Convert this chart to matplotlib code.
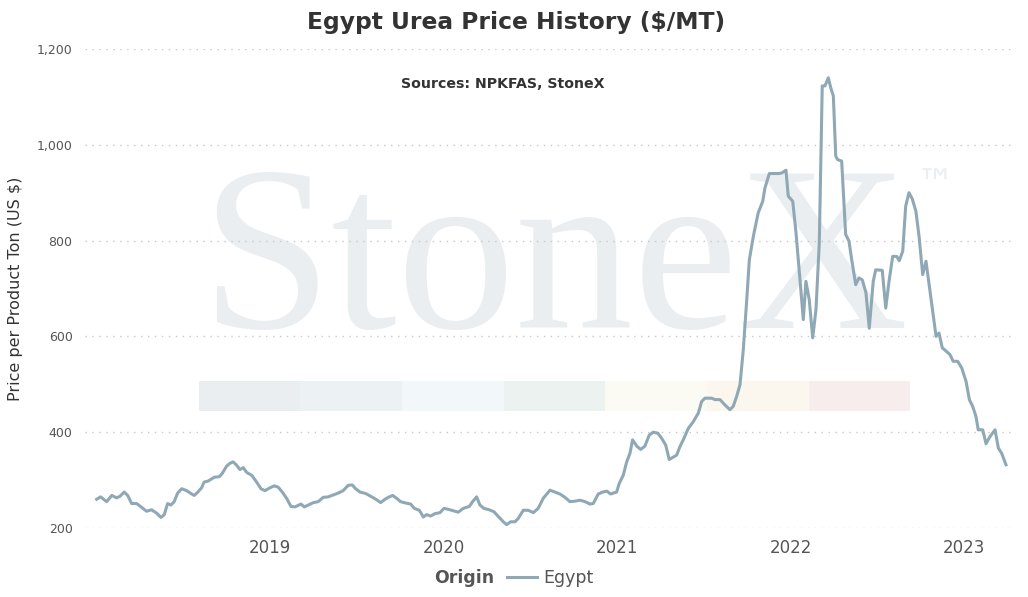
import matplotlib
matplotlib.use('Agg')
import matplotlib.pyplot as plt
from matplotlib.patches import Rectangle
from matplotlib.lines import Line2D

# decimal year of each reading, and price in $/MT
years = [
    2018.001, 2018.024, 2018.059, 2018.088, 2018.116, 2018.135, 2018.160, 2018.180,
    2018.203, 2018.232, 2018.261, 2018.289, 2018.318, 2018.347, 2018.372, 2018.391,
    2018.410, 2018.429, 2018.448, 2018.468, 2018.491, 2018.520, 2018.549, 2018.564,
    2018.587, 2018.606, 2018.621, 2018.644, 2018.679, 2018.708, 2018.725, 2018.750,
    2018.769, 2018.788, 2018.808, 2018.827, 2018.846, 2018.866, 2018.895, 2018.923,
    2018.948, 2018.971, 2019.000, 2019.025, 2019.048, 2019.071, 2019.096, 2019.121,
    2019.144, 2019.179, 2019.198, 2019.221, 2019.250, 2019.278, 2019.307, 2019.336,
    2019.365, 2019.394, 2019.422, 2019.451, 2019.474, 2019.494, 2019.519, 2019.552,
    2019.582, 2019.615, 2019.638, 2019.663, 2019.682, 2019.707, 2019.730, 2019.753,
    2019.784, 2019.811, 2019.832, 2019.861, 2019.884, 2019.903, 2019.926, 2019.951,
    2019.980, 2020.003, 2020.028, 2020.057, 2020.085, 2020.114, 2020.149, 2020.168,
    2020.191, 2020.210, 2020.233, 2020.264, 2020.291, 2020.316, 2020.345, 2020.364,
    2020.387, 2020.412, 2020.431, 2020.460, 2020.489, 2020.518, 2020.546, 2020.575,
    2020.614, 2020.643, 2020.671, 2020.700, 2020.729, 2020.758, 2020.787, 2020.816,
    2020.844, 2020.863, 2020.892, 2020.918, 2020.941, 2020.964, 2020.979, 2020.998,
    2021.013, 2021.036, 2021.056, 2021.075, 2021.090, 2021.114, 2021.137, 2021.161,
    2021.186, 2021.209, 2021.235, 2021.258, 2021.281, 2021.301, 2021.324, 2021.344,
    2021.363, 2021.382, 2021.411, 2021.440, 2021.469, 2021.488, 2021.507, 2021.546,
    2021.565, 2021.594, 2021.622, 2021.651, 2021.670, 2021.690, 2021.709, 2021.728,
    2021.748, 2021.763, 2021.786, 2021.814, 2021.840, 2021.853, 2021.878, 2021.901,
    2021.930, 2021.949, 2021.974, 2021.987, 2022.013, 2022.032, 2022.055, 2022.074,
    2022.089, 2022.108, 2022.128, 2022.147, 2022.166, 2022.183, 2022.199, 2022.218,
    2022.232, 2022.247, 2022.261, 2022.272, 2022.295, 2022.318, 2022.337, 2022.353,
    2022.376, 2022.395, 2022.414, 2022.435, 2022.454, 2022.477, 2022.491, 2022.529,
    2022.549, 2022.568, 2022.589, 2022.612, 2022.627, 2022.647, 2022.664, 2022.683,
    2022.702, 2022.723, 2022.741, 2022.762, 2022.781, 2022.800, 2022.820, 2022.839,
    2022.856, 2022.875, 2022.895, 2022.919, 2022.938, 2022.964, 2022.987, 2023.012,
    2023.031, 2023.050, 2023.069, 2023.082, 2023.108, 2023.127, 2023.150, 2023.179,
    2023.198, 2023.217, 2023.242,
]
prices = [
    260, 265, 255, 268, 263, 266, 275, 268,
    251, 251, 243, 235, 238, 231, 222, 228,
    251, 248, 255, 273, 282, 278, 271, 268,
    276, 284, 296, 298, 306, 307, 314, 329,
    335, 338, 331, 322, 326, 316, 310, 296,
    282, 278, 284, 288, 285, 275, 262, 245,
    244, 250, 244, 248, 253, 255, 264, 265,
    269, 273, 278, 289, 290, 282, 275, 272,
    266, 259, 253, 260, 264, 268, 262, 255,
    252, 250, 241, 237, 223, 228, 225, 230,
    232, 241, 239, 236, 233, 241, 245, 255,
    265, 248, 241, 238, 234, 224, 213, 207,
    213, 213, 220, 237, 237, 232, 241, 262,
    279, 275, 271, 264, 255, 256, 258, 255,
    250, 251, 271, 275, 277, 271, 273, 275,
    293, 310, 338, 356, 384, 371, 364, 371,
    394, 400, 398, 387, 373, 343, 348, 352,
    370, 384, 408, 422, 440, 464, 471, 471,
    468, 468, 457, 447, 454, 475, 499, 572,
    677, 760, 809, 858, 882, 910, 940, 940,
    940, 941, 947, 893, 882, 816, 718, 635,
    715, 677, 597, 656, 795, 1123, 1123, 1140,
    1119, 1102, 976, 969, 966, 813, 799, 760,
    708, 722, 718, 691, 617, 715, 739, 738,
    659, 715, 767, 767, 758, 778, 872, 900,
    887, 861, 809, 729, 757, 705, 649, 600,
    607, 576, 570, 562, 548, 548, 534, 506,
    468, 454, 433, 405, 405, 376, 391, 405,
    367, 356, 332,
]
tick_years = [2019, 2020, 2021, 2022, 2023]
y_ticks = [200, 400, 600, 800, 1000, 1200]
band_colors = ['#eaeef1', '#ecf1f3', '#f2f7f9', '#ecf2ef', '#fbfbf3', '#fbf7ee', '#f8eded']

line_color = '#8fa8b6'
text_color = '#555555'

fig = plt.figure(figsize=(10.28, 5.97), dpi=100)
ax = fig.add_axes([85 / 1028, 1 - 528 / 597, 930 / 1028, 479 / 597])
ax.set_zorder(2)

# watermark logo and colour band behind everything
fig.text(200 / 1028, 1 - 328 / 597, 'StoneX', family='Liberation Serif', fontsize=170,
         color='#eaeef1', ha='left', va='baseline', zorder=0)
fig.text(917 / 1028, 1 - 196 / 597, '\u2122', fontsize=27, color='#eaeef1',
         ha='left', va='baseline', zorder=0)
bw = 101.7
for i, c in enumerate(band_colors):
    fig.patches.append(Rectangle(((198.5 + i * bw) / 1028, 1 - 411 / 597), bw / 1028, 30 / 597,
                                 transform=fig.transFigure, facecolor=c, edgecolor='none', zorder=0))

ax.patch.set_alpha(0)
ax.plot(years, prices, color=line_color, linewidth=2.2, zorder=3)

ax.set_xlim(2017.934, 2023.294)
ax.set_ylim(200, 1200)
ax.set_xticks(tick_years)
ax.set_xticklabels([str(y) for y in tick_years])
ax.set_yticks(y_ticks)
ax.set_yticklabels([f'{v:,}' for v in y_ticks])
ax.tick_params(axis='x', length=0, pad=8, labelsize=12, labelcolor=text_color)
ax.tick_params(axis='y', length=0, pad=9, labelsize=9, labelcolor=text_color)
ax.grid(axis='y', color='#c8c8c8', linestyle=(0, (1, 4)), linewidth=1)
ax.set_axisbelow(True)
for s in ax.spines.values():
    s.set_visible(False)

ax.set_ylabel('Price per Product Ton (US $)', fontsize=11.5, color='#333333', labelpad=10)
fig.text(516 / 1028, 1 - 22 / 597, 'Egypt Urea Price History ($/MT)', fontsize=16.8,
         fontweight='bold', color='#333333', ha='center', va='center')
fig.text(503 / 1028, 1 - 84 / 597, 'Sources: NPKFAS, StoneX', fontsize=10.2,
         fontweight='bold', color='#333333', ha='center', va='center')

# legend at the bottom
fig.text(494 / 1028, 1 - 578 / 597, 'Origin', fontsize=12.5, fontweight='bold',
         color=text_color, ha='right', va='center')
fig.add_artist(Line2D([507 / 1028, 537 / 1028], [1 - 577 / 597, 1 - 577 / 597],
                      color=line_color, linewidth=2.2, transform=fig.transFigure))
fig.text(543 / 1028, 1 - 578 / 597, 'Egypt', fontsize=12.5, color=text_color,
         ha='left', va='center')

fig.savefig('out.png', dpi=100)
